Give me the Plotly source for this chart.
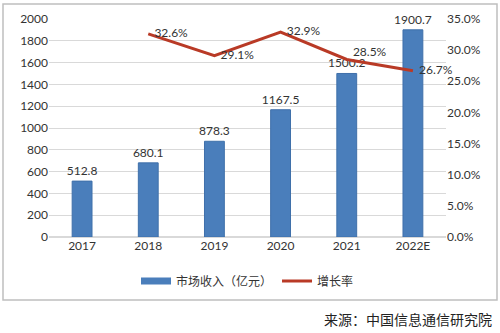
import plotly.graph_objects as go

years = ["2017", "2018", "2019", "2020", "2021", "2022E"]
revenue = [512.8, 680.1, 878.3, 1167.5, 1500.2, 1900.7]
growth_years = ["2018", "2019", "2020", "2021", "2022E"]
growth = [0.326, 0.291, 0.329, 0.285, 0.267]

font_family = "Lato, 'Noto Sans CJK SC', sans-serif"
txt_col = "#333333"
pad = "\u00a0\u00a0"
bar_col = "#4a7ebb"

fig = go.Figure()
fig.add_trace(go.Bar(
    x=years, y=revenue, name="市场收入（亿元）", showlegend=False,
    marker=dict(color=bar_col, line=dict(color="#3f70aa", width=1)),
    width=0.3,
    text=[f"{v:.1f}" for v in revenue], textposition="outside",
    constraintext="none",
    textfont=dict(size=12, color=txt_col, family=font_family),
    cliponaxis=False,
))
# legend entry with a wide rectangular key like the original
fig.add_trace(go.Scatter(
    x=[None], y=[None], name="市场收入（亿元）", mode="lines",
    line=dict(color=bar_col, width=7), showlegend=True,
))
fig.add_trace(go.Scatter(
    x=growth_years, y=growth, name="增长率", yaxis="y2",
    mode="lines+text",
    line=dict(color="#b93a26", width=3),
    text=[pad + f"{v*100:.1f}%" for v in growth],
    textposition=["middle right", "middle right", "middle right", "top right", "middle right"],
    textfont=dict(size=12, color=txt_col, family=font_family),
    cliponaxis=False,
))

L, R, T, B = 49, 446, 19, 237
W, H = R - L, B - T
def px(x): return (x - L) / W
def py(y): return (B - y) / H

fig.update_layout(
    width=500, height=333,
    margin=dict(l=L, r=500 - R, t=T, b=333 - B),
    paper_bgcolor="white", plot_bgcolor="white",
    font=dict(family=font_family, size=12, color=txt_col),
    bargap=0.7,
    showlegend=True,
    legend=dict(orientation="h", x=0.5, xanchor="center", y=py(281), yanchor="middle",
                font=dict(size=12, family="'Noto Sans CJK SC', sans-serif", color=txt_col),
                traceorder="normal"),
    xaxis=dict(showgrid=False, showline=False, ticks="", tickfont=dict(size=12)),
    yaxis=dict(range=[0, 2000], dtick=200, showgrid=True, gridcolor="#d9d9d9",
               gridwidth=1, zeroline=True, zerolinecolor="#d9d9d9", ticks="",
               tickfont=dict(size=12)),
    yaxis2=dict(range=[0, 0.35], dtick=0.05, tickformat=".1%", overlaying="y",
                side="right", showgrid=False, zeroline=False, ticks="",
                tickfont=dict(size=12)),
    shapes=[dict(type="rect", xref="paper", yref="paper",
                 x0=px(3), x1=px(497), y0=py(300), y1=py(4),
                 line=dict(color="#bfbfbf", width=1.5), fillcolor="rgba(0,0,0,0)", layer="below")],
    annotations=[dict(text="来源：中国信息通信研究院", xref="paper", yref="paper",
                      x=px(494), y=py(319), xanchor="right", yanchor="middle",
                      showarrow=False,
                      font=dict(size=14, family="'Noto Sans CJK SC', sans-serif", color="#222222"))],
)

fig.write_html("out.html")
